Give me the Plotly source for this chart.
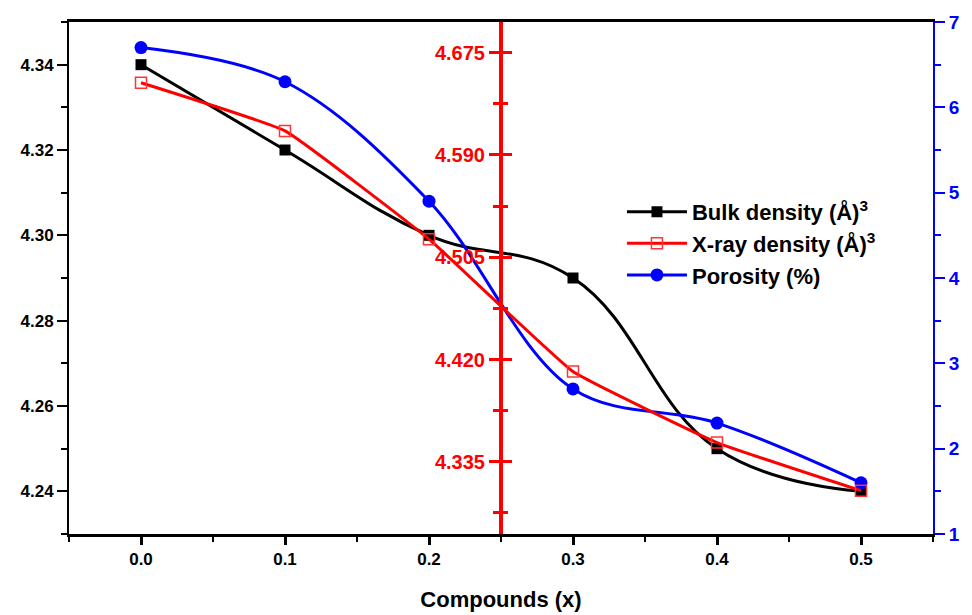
import plotly.graph_objects as go

compounds = [0.0, 0.1, 0.2, 0.3, 0.4, 0.5]
bulk_density = [4.34, 4.32, 4.30, 4.29, 4.25, 4.24]
xray_density = [4.650, 4.610, 4.520, 4.410, 4.351, 4.311]
porosity = [6.7, 6.3, 4.9, 2.7, 2.3, 1.6]

FONT = "Liberation Sans, Arial, sans-serif"

fig = go.Figure()
fig.add_trace(go.Scatter(
    x=compounds, y=bulk_density, name="Bulk density (Å)<sup>3</sup>",
    mode="lines+markers", line=dict(color="black", width=3, shape="spline", smoothing=1.2),
    marker=dict(symbol="square", size=11, color="black"), yaxis="y"))
fig.add_trace(go.Scatter(
    x=compounds, y=xray_density, name="X-ray density (Å)<sup>3</sup>",
    mode="lines+markers", line=dict(color="#ff0000", width=3, shape="spline", smoothing=0.3),
    marker=dict(symbol="square-open", size=11, color="#ff3333", line=dict(width=1.5)), yaxis="y3"))
fig.add_trace(go.Scatter(
    x=compounds, y=porosity, name="Porosity (%)",
    mode="lines+markers", line=dict(color="#0000ff", width=3, shape="spline", smoothing=1.0),
    marker=dict(symbol="circle", size=13, color="#0000ff"), yaxis="y2"))
# helper trace so that the mirrored tick side of the middle axis is drawn
fig.add_trace(go.Scatter(x=[], y=[], yaxis="y4", showlegend=False, hoverinfo="skip"))

tick_font = dict(family=FONT, size=17, color="black", weight="bold")

fig.update_layout(
    width=972, height=615,
    margin=dict(l=69, r=35, t=16, b=81),
    plot_bgcolor="white", paper_bgcolor="white",
    showlegend=True,
    legend=dict(x=0.64, y=0.67, xanchor="left", yanchor="top",
                font=dict(family=FONT, size=22, color="black", weight="bold"),
                bgcolor="rgba(0,0,0,0)", tracegroupgap=0, itemwidth=60),
    xaxis=dict(
        range=[-0.05, 0.55], tick0=0, dtick=0.1, tickformat=".1f",
        showgrid=False, zeroline=False, automargin=False,
        showline=True, linecolor="black", linewidth=3, mirror=True,
        ticks="outside", ticklen=8, tickwidth=3, tickcolor="black",
        minor=dict(ticks="outside", ticklen=5, tickwidth=2, dtick=0.05, tick0=-0.05, tickcolor="black"),
        tickfont=tick_font,
        title=dict(text="Compounds (x)", font=dict(family=FONT, size=22, color="black", weight="bold"), standoff=24),
    ),
    yaxis=dict(
        range=[4.23, 4.35], tick0=4.24, dtick=0.02, tickformat=".2f",
        showgrid=False, zeroline=False,
        showline=True, linecolor="black", linewidth=2,
        ticks="outside", ticklen=10, tickwidth=2, tickcolor="black",
        minor=dict(ticks="outside", ticklen=6, tickwidth=2, dtick=0.01, tick0=4.23, tickcolor="black"),
        tickfont=tick_font,
    ),
    yaxis2=dict(
        range=[1, 7], dtick=1, overlaying="y", side="right", anchor="x",
        showgrid=False, zeroline=False,
        showline=True, linecolor="#0000ff", linewidth=2,
        ticks="outside", ticklen=10, tickwidth=2, tickcolor="#0000ff",
        minor=dict(ticks="outside", ticklen=6, tickwidth=2, dtick=0.5, tickcolor="#0000ff"),
        tickfont=dict(family=FONT, size=19, color="#0000ff", weight="bold"),
    ),
    yaxis3=dict(
        range=[4.275, 4.7005], tick0=4.25, dtick=0.085, tickformat=".3f",
        overlaying="y", side="left", anchor="free", position=0.5,
        showgrid=False, zeroline=False,
        showline=True, linecolor="#ff0000", linewidth=4,
        ticks="outside", ticklen=10, tickwidth=3, tickcolor="#ff0000",
        minor=dict(ticks="outside", ticklen=6, tickwidth=3, dtick=0.0425, tick0=4.25, tickcolor="#ff0000"),
        tickfont=dict(family=FONT, size=20, color="#ff0000", weight="bold"),
    ),
    yaxis4=dict(
        range=[4.275, 4.7005], tick0=4.25, dtick=0.085,
        overlaying="y", side="right", anchor="free", position=0.5,
        showgrid=False, zeroline=False, showticklabels=False,
        showline=False,
        ticks="outside", ticklen=10, tickwidth=3, tickcolor="#ff0000",
        minor=dict(ticks="outside", ticklen=6, tickwidth=3, dtick=0.0425, tick0=4.25, tickcolor="#ff0000"),
    ),
)

fig.write_html("out.html")
